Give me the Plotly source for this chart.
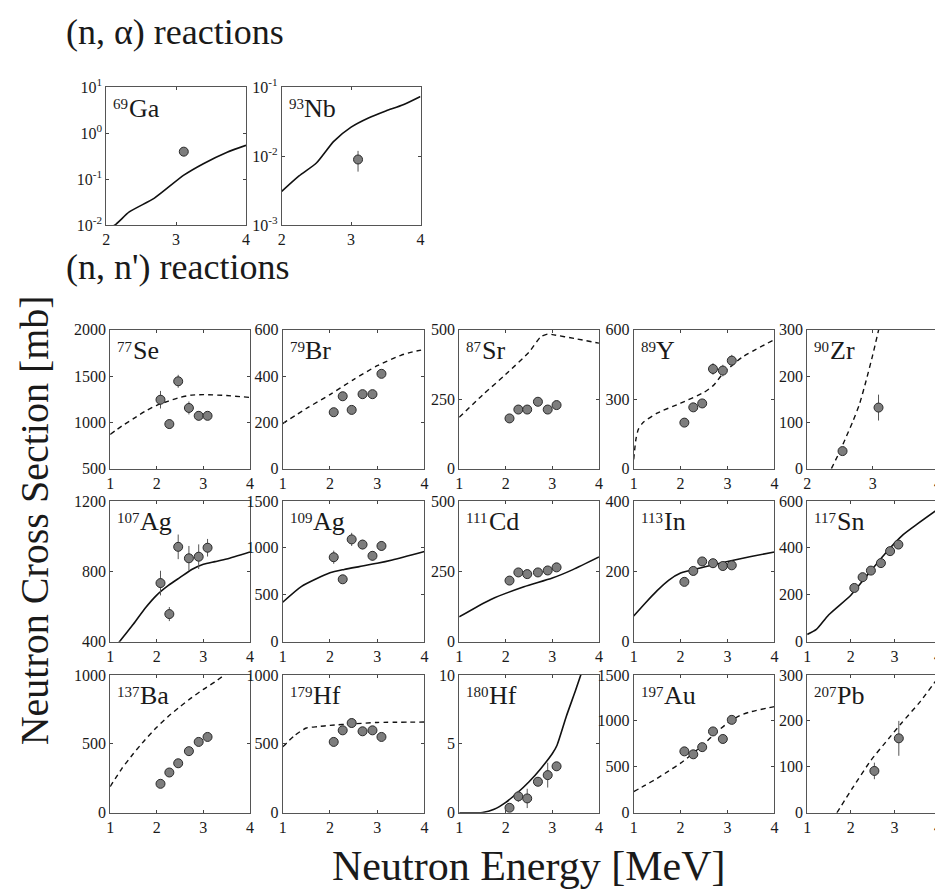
import math
import plotly.graph_objects as go

FONT = "Liberation Serif"
W, H = 943, 890

# ---------------- data ----------------
E6 = [2.08, 2.27, 2.46, 2.69, 2.90, 3.09]

ga69_cx = [2.0, 2.12, 2.33, 2.69, 3.11, 3.39, 3.73, 4.0]
ga69_cy = [0.0085, 0.0100, 0.0195, 0.039, 0.123, 0.219, 0.389, 0.55]
ga69_x = [3.11]
ga69_y = [0.40]
ga69_e = [0.08]

nb93_cx = [2.0, 2.25, 2.5, 2.75, 3.0, 3.25, 3.5, 3.75, 4.0]
nb93_cy = [0.0031, 0.0052, 0.0080, 0.0165, 0.0265, 0.0360, 0.0455, 0.0560, 0.0740]
nb93_x = [3.1]
nb93_y = [0.009]
nb93_e = [0.003]

se77_cx = [1.0, 1.25, 1.5, 1.75, 2.0, 2.25, 2.5, 2.75, 3.0, 3.5, 4.0]
se77_cy = [870, 960, 1040, 1120, 1185, 1230, 1270, 1295, 1300, 1290, 1270]
se77_y = [1245, 982, 1444, 1156, 1071, 1071]
se77_e = [95, 50, 70, 70, 50, 40]

br79_cx = [1.0, 1.5, 2.0, 2.5, 3.0, 3.5, 3.75, 4.0]
br79_cy = [195, 260, 320, 385, 445, 490, 505, 515]
br79_y = [244, 313, 254, 322, 322, 410]
br79_e = [10, 10, 10, 12, 12, 15]

sr87_cx = [1.0, 1.5, 2.0, 2.5, 2.75, 2.9, 3.0, 3.5, 4.0]
sr87_cy = [185, 265, 340, 420, 475, 485, 483, 468, 452]
sr87_y = [181, 213, 213, 241, 213, 229]
sr87_e = [8, 8, 8, 10, 8, 8]

y89_cx = [1.0, 1.05, 1.1, 1.2, 1.5, 2.0, 2.5, 2.7, 2.9, 3.3, 4.0]
y89_cy = [40, 130, 170, 200, 240, 283, 330, 360, 410, 480, 558]
y89_y = [199, 265, 282, 431, 424, 467]
y89_e = [10, 15, 15, 25, 25, 25]

zr90_cx = [2.37, 2.5, 2.6, 2.7, 2.8, 2.9, 3.0, 3.1]
zr90_cy = [0, 38, 70, 103, 140, 190, 245, 305]
zr90_x = [2.54, 3.09]
zr90_y = [38, 132]
zr90_e = [8, 28]

ag107_cx = [1.1, 1.2, 1.5, 1.75, 2.0, 2.25, 2.5, 2.75, 3.0, 3.25, 3.5, 4.0]
ag107_cy = [360, 400, 500, 590, 665, 720, 765, 810, 840, 855, 870, 910]
ag107_y = [733, 557, 939, 874, 883, 934]
ag107_e = [70, 40, 70, 70, 70, 50]

ag109_cx = [1.0, 1.4, 2.0, 2.3, 2.62, 3.0, 3.32, 4.0]
ag109_cy = [420, 590, 735, 770, 800, 835, 870, 960]
ag109_y = [900, 665, 1090, 1035, 915, 1020]
ag109_e = [70, 30, 70, 50, 50, 50]

cd111_cx = [1.0, 1.68, 2.39, 3.0, 3.44, 4.0]
cd111_cy = [88, 150, 195, 226, 256, 301]
cd111_y = [217, 246, 240, 246, 253, 264]
cd111_e = [12, 10, 10, 10, 10, 10]

in113_cx = [1.0, 1.25, 1.5, 1.75, 2.0, 2.5, 3.0, 3.5, 4.0]
in113_cy = [73, 110, 145, 175, 195, 212, 228, 242, 255]
in113_y = [170, 201, 228, 223, 215, 217]
in113_e = [5, 6, 6, 6, 6, 6]

sn117_cx = [1.0, 1.21, 1.49, 2.0, 2.34, 2.77, 3.2, 3.55, 4.0]
sn117_cy = [31, 52, 114, 198, 275, 372, 456, 505, 565]
sn117_y = [229, 275, 303, 335, 386, 414]
sn117_e = [10, 10, 10, 10, 10, 10]

ba137_cx = [1.0, 1.25, 1.5, 1.75, 2.0, 2.25, 2.5, 2.75, 3.0, 3.25, 3.45, 3.6]
ba137_cy = [190, 320, 430, 530, 620, 700, 770, 835, 895, 950, 1000, 1040]
ba137_y = [210, 292, 359, 447, 514, 550]
ba137_e = [15, 15, 15, 15, 15, 15]

hf179_cx = [1.0, 1.25, 1.5, 1.75, 2.0, 2.5, 3.0, 4.0]
hf179_cy = [478, 560, 615, 625, 634, 645, 655, 658]
hf179_y = [514, 598, 651, 591, 598, 550]
hf179_e = [20, 25, 30, 25, 25, 20]

hf180_cx = [1.0, 1.5, 1.75, 2.0, 2.25, 2.5, 2.75, 3.0, 3.1, 3.3, 3.5, 3.65]
hf180_cy = [0, 0.02, 0.25, 0.75, 1.45, 2.25, 3.2, 4.3, 4.9, 7.0, 8.9, 10.4]
hf180_y = [0.36, 1.19, 1.04, 2.25, 2.73, 3.37]
hf180_e = [0.3, 0.4, 0.7, 0.3, 0.9, 0.3]

au197_cx = [1.0, 1.25, 1.5, 1.75, 2.0, 2.25, 2.5, 2.75, 3.0, 3.25, 3.5, 4.0]
au197_cy = [230, 300, 375, 455, 540, 640, 750, 870, 975, 1055, 1100, 1155]
au197_y = [668, 636, 714, 885, 803, 1011]
au197_e = [30, 30, 30, 30, 30, 30]

pb207_cx = [1.68, 2.04, 2.46, 2.89, 3.17, 3.6, 3.96, 4.0]
pb207_cy = [0, 54, 114, 164, 196, 243, 289, 295]
pb207_x = [2.54, 3.1]
pb207_y = [91, 162]
pb207_e = [18, 38]

# mass, element, curve x, curve y, pts x, pts y, err, dashed, xrange, yrange, yticks, log
panels = [
    ("69", "Ga", ga69_cx, ga69_cy, ga69_x, ga69_y, ga69_e, False, [2, 4], [0.01, 10], [0.01, 0.1, 1, 10], True),
    ("93", "Nb", nb93_cx, nb93_cy, nb93_x, nb93_y, nb93_e, False, [2, 4], [0.001, 0.1], [0.001, 0.01, 0.1], True),
    ("77", "Se", se77_cx, se77_cy, E6, se77_y, se77_e, True, [1, 4], [500, 2000], [500, 1000, 1500, 2000], False),
    ("79", "Br", br79_cx, br79_cy, E6, br79_y, br79_e, True, [1, 4], [0, 600], [0, 200, 400, 600], False),
    ("87", "Sr", sr87_cx, sr87_cy, E6, sr87_y, sr87_e, True, [1, 4], [0, 500], [0, 250, 500], False),
    ("89", "Y", y89_cx, y89_cy, E6, y89_y, y89_e, True, [1, 4], [0, 600], [0, 300, 600], False),
    ("90", "Zr", zr90_cx, zr90_cy, zr90_x, zr90_y, zr90_e, True, [2, 4], [0, 300], [0, 100, 200, 300], False),
    ("107", "Ag", ag107_cx, ag107_cy, E6, ag107_y, ag107_e, False, [1, 4], [400, 1200], [400, 800, 1200], False),
    ("109", "Ag", ag109_cx, ag109_cy, E6, ag109_y, ag109_e, False, [1, 4], [0, 1500], [0, 500, 1000, 1500], False),
    ("111", "Cd", cd111_cx, cd111_cy, E6, cd111_y, cd111_e, False, [1, 4], [0, 500], [0, 250, 500], False),
    ("113", "In", in113_cx, in113_cy, E6, in113_y, in113_e, False, [1, 4], [0, 400], [0, 200, 400], False),
    ("117", "Sn", sn117_cx, sn117_cy, E6, sn117_y, sn117_e, False, [1, 4], [0, 600], [0, 200, 400, 600], False),
    ("137", "Ba", ba137_cx, ba137_cy, E6, ba137_y, ba137_e, True, [1, 4], [0, 1000], [0, 500, 1000], False),
    ("179", "Hf", hf179_cx, hf179_cy, E6, hf179_y, hf179_e, True, [1, 4], [0, 1000], [0, 500, 1000], False),
    ("180", "Hf", hf180_cx, hf180_cy, E6, hf180_y, hf180_e, False, [1, 4], [0, 10], [0, 5, 10], False),
    ("197", "Au", au197_cx, au197_cy, E6, au197_y, au197_e, True, [1, 4], [0, 1500], [0, 500, 1000, 1500], False),
    ("207", "Pb", pb207_cx, pb207_cy, pb207_x, pb207_y, pb207_e, True, [1, 4], [0, 300], [0, 100, 200, 300], False),
]

# ---------------- layout boxes (pixels: left, right, top, bottom) ----------------
boxes = [(95, 236, 70, 211), (272, 412, 70, 211)]
cols = [(99, 240), (273, 416), (451, 592), (627, 769), (802, 934)]
rows = [(318, 460), (493, 637), (671, 812)]
for (t, b) in rows:
    for (l, r) in cols:
        boxes.append((l, r, t, b))

fig = go.Figure()
layout = dict(
    width=W, height=H, margin=dict(l=0, r=0, t=0, b=0),
    paper_bgcolor="white", plot_bgcolor="white", showlegend=False,
    font=dict(family=FONT, color="#1a1a1a"),
)
annotations = []


def sup_exp(v):
    e = int(round(math.log10(v)))
    return "10<sup>%d</sup>" % e


for i, (p, box) in enumerate(zip(panels, boxes)):
    mass, el, cx, cy, px, py, pe, dashed, xr, yr, yt, islog = p
    l, r, t, b = box
    n = i + 1
    xa = "xaxis" if n == 1 else "xaxis%d" % n
    ya = "yaxis" if n == 1 else "yaxis%d" % n
    xs = "x" if n == 1 else "x%d" % n
    ys = "y" if n == 1 else "y%d" % n
    xticks = list(range(int(xr[0]), int(xr[1]) + 1))
    common = dict(
        ticks="inside", ticklen=3, tickcolor="#444", showline=True, mirror="ticks",
        linecolor="#555", linewidth=1, showgrid=False, zeroline=False,
        tickfont=dict(size=16, family=FONT, color="#1a1a1a"), fixedrange=True,
    )
    layout[xa] = dict(domain=[l / W, r / W], range=xr, anchor=ys, tickvals=xticks, **common)
    ydict = dict(domain=[1 - b / H, 1 - t / H], anchor=xs, tickvals=yt, **common)
    if islog:
        ydict["type"] = "log"
        ydict["range"] = [math.log10(yr[0]), math.log10(yr[1])]
        ydict["ticktext"] = [sup_exp(v) for v in yt]
    else:
        ydict["range"] = yr
    layout[ya] = ydict

    fig.add_trace(go.Scatter(
        x=cx, y=cy, mode="lines", xaxis=xs, yaxis=ys,
        line=dict(color="#111", width=1.6 if not dashed else 1.4,
                  dash="5px,4px" if dashed else "solid", shape="spline", smoothing=0.6),
        hoverinfo="skip",
    ))
    fig.add_trace(go.Scatter(
        x=px, y=py, mode="markers", xaxis=xs, yaxis=ys,
        marker=dict(size=9, color="#7d7d7d", line=dict(color="#2a2a2a", width=1)),
        error_y=dict(type="data", array=pe, visible=True, thickness=1, width=0, color="#555"),
        hoverinfo="skip",
    ))
    # mass number (small, raised) and element symbol as two texts
    annotations.append(dict(
        xref="%s domain" % xs, yref="%s domain" % ys, x=0, y=1,
        xanchor="left", yanchor="middle", xshift=5, yshift=-17, showarrow=False,
        text=mass, font=dict(size=15, family=FONT, color="#1a1a1a"),
    ))
    annotations.append(dict(
        xref="%s domain" % xs, yref="%s domain" % ys, x=0, y=1,
        xanchor="left", yanchor="middle", xshift=6 + 7.4 * len(mass), yshift=-21, showarrow=False,
        text=el, font=dict(size=26, family=FONT, color="#1a1a1a"),
    ))

annotations += [
    dict(xref="paper", yref="paper", x=52 / W, y=1 - 13 / H, xanchor="left", yanchor="middle",
         showarrow=False, text="(n, α) reactions", font=dict(size=36, family=FONT, color="#1a1a1a")),
    dict(xref="paper", yref="paper", x=52 / W, y=1 - 254 / H, xanchor="left", yanchor="middle",
         showarrow=False, text="(n, n') reactions", font=dict(size=36, family=FONT, color="#1a1a1a")),
    dict(xref="paper", yref="paper", x=23 / W, y=1 - 513 / H, xanchor="center", yanchor="middle",
         showarrow=False, textangle=-90, text="Neutron Cross Section [mb]",
         font=dict(size=40, family=FONT, color="#1a1a1a")),
    dict(xref="paper", yref="paper", x=521 / W, y=1 - 866 / H, xanchor="center", yanchor="middle",
         showarrow=False, text="Neutron Energy [MeV]",
         font=dict(size=42, family=FONT, color="#1a1a1a")),
]
layout["annotations"] = annotations
fig.update_layout(**layout)
fig.write_html("out.html")
